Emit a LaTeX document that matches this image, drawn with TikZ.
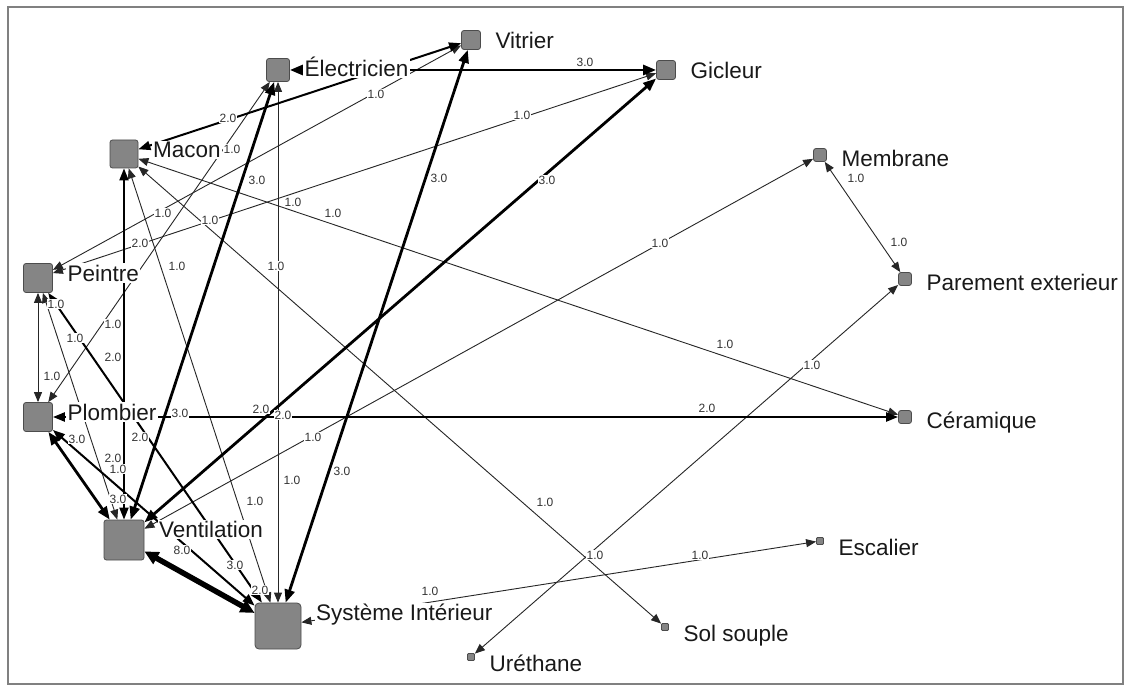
\documentclass[tikz,border=0pt]{standalone}
\usepackage{fontspec}
\setmainfont{Liberation Sans}
\usetikzlibrary{arrows.meta,calc}
\begin{document}
\begin{tikzpicture}[x=1pt,y=-1pt,
  nd/.style={rectangle,draw=black!70,fill=black!48,rounded corners=2.5pt,inner sep=0pt,line width=0.8pt},
  lab/.style={anchor=base west,fill=white,inner xsep=1.5pt,inner ysep=1.5pt,font=\fontsize{22.5}{24}\selectfont,text=black!90},
  elab/.style={fill=white,inner sep=0.8pt,font=\fontsize{12}{13}\selectfont,text=black!80},
  wa/.style={draw=black!85,line width=0.9pt,arrows={Triangle[length=10pt,width=8pt]-Triangle[length=10pt,width=8pt]}},
  wb/.style={draw=black,line width=2pt,arrows={Triangle[length=12pt,width=9pt]-Triangle[length=12pt,width=9pt]}},
  wc/.style={draw=black,line width=2.8pt,arrows={Triangle[length=13pt,width=10pt]-Triangle[length=13pt,width=10pt]}},
  wd/.style={draw=black,line width=5.5pt,arrows={Triangle[length=14pt,width=13pt]-Triangle[length=14pt,width=13pt]}}
]
\useasboundingbox (0,0) rectangle (1131,692);
\fill[white] (0,0) rectangle (1131,692);
\draw[black!50,line width=1.3pt] (8,7) rectangle (1123,684);

% nodes
\node[nd,minimum size=23pt] (ele) at (278,70) {};
\node[nd,minimum size=19pt] (vit) at (471,40) {};
\node[nd,minimum size=19pt] (gic) at (666,70) {};
\node[nd,minimum size=28pt] (mac) at (124,154) {};
\node[nd,minimum size=13pt] (mem) at (820,155) {};
\node[nd,minimum size=29pt] (pei) at (38,278) {};
\node[nd,minimum size=13pt] (par) at (905,279) {};
\node[nd,minimum size=29pt] (plo) at (38,417) {};
\node[nd,minimum size=13pt] (cer) at (905,417) {};
\node[nd,minimum size=40pt] (ven) at (124,540) {};
\node[nd,minimum size=7pt,rounded corners=1pt] (esc) at (820,541) {};
\node[nd,minimum size=46pt,rounded corners=4pt] (sys) at (278,626) {};
\node[nd,minimum size=7pt,rounded corners=1pt] (sol) at (665,627) {};
\node[nd,minimum size=7pt,rounded corners=1pt] (ure) at (471,657) {};

% thin ties
\draw[wa] (pei) -- (vit);
\draw[wa] (pei) -- (gic);
\draw[wa] (plo) -- (ele);
\draw[wa] (ele) -- (sys);
\draw[wa] (mac) -- (sys);
\draw[wa] (mac) -- (sol);
\draw[wa] (mac) -- (cer);
\draw[wa] (ven) -- (mem);
\draw[wa] (mem) -- (par);
\draw[wa] (par) -- (ure);
\draw[wa] (sys) -- (esc);
\draw[wa] (pei) -- (plo);
\draw[wa] (pei) -- (ven);
% medium ties
\draw[wb] (mac) -- (vit);
\draw[wb] (mac) -- (ven);
\draw[wb] (pei) -- (sys);
\draw[wb] (plo) -- (sys);
\draw[wb,line width=2.3pt] (plo) -- (cer);
% thick ties
\draw[wc] (ele) -- (gic);
\draw[wc] (ven) -- (ele);
\draw[wc] (ven) -- (gic);
\draw[wc] (sys) -- (vit);
\draw[wc] (plo) -- (ven);
\draw[wd] (ven) -- (sys);

% tie values
\node[elab] (l1) at (585,62) {3.0};
\node[elab] (l2) at (228,118) {2.0};
\node[elab] (l3) at (376,94) {1.0};
\node[elab] (l4) at (522,115) {1.0};
\node[elab] (l5) at (232,149) {1.0};
\node[elab] (l6) at (257,180) {3.0};
\node[elab] (l7) at (163,213) {1.0};
\node[elab] (l8) at (210,220) {1.0};
\node[elab] (l9) at (293,202) {1.0};
\node[elab] (l10) at (333,213) {1.0};
\node[elab] (l11) at (140,243) {2.0};
\node[elab] (l12) at (177,266) {1.0};
\node[elab] (l13) at (276,266) {1.0};
\node[elab] (l14) at (660,243) {1.0};
\node[elab] (l15) at (856,178) {1.0};
\node[elab] (l16) at (899,242) {1.0};
\node[elab] (l17) at (725,344) {1.0};
\node[elab] (l18) at (812,365) {1.0};
\node[elab] (l19) at (439,178) {3.0};
\node[elab] (l20) at (547,180) {3.0};
\node[elab] (l21) at (113,324) {1.0};
\node[elab] (l22) at (75,338) {1.0};
\node[elab] (l23) at (113,357) {2.0};
\node[elab] (l24) at (52,376) {1.0};
\node[elab] (l25) at (56,304) {1.0};
\node[elab] (l26) at (180,413) {3.0};
\node[elab] (l27) at (261,409) {2.0};
\node[elab] (l28) at (283,415) {2.0};
\node[elab] (l29) at (707,408) {2.0};
\node[elab] (l30) at (140,437) {2.0};
\node[elab] (l31) at (77,439) {3.0};
\node[elab] (l32) at (313,437) {1.0};
\node[elab] (l33) at (113,458) {2.0};
\node[elab] (l34) at (118,469) {1.0};
\node[elab] (l35) at (292,480) {1.0};
\node[elab] (l36) at (342,471) {3.0};
\node[elab] (l37) at (118,499) {3.0};
\node[elab] (l38) at (255,501) {1.0};
\node[elab] (l39) at (545,502) {1.0};
\node[elab] (l40) at (182,550) {8.0};
\node[elab] (l41) at (595,555) {1.0};
\node[elab] (l42) at (700,555) {1.0};
\node[elab] (l43) at (235,565) {3.0};
\node[elab] (l44) at (260,590) {2.0};
\node[elab] (l45) at (430,591) {1.0};

% actor names
\node[lab] (t-ele) at ($(ele.north east)+(13,18)$) {Électricien};
\node[lab] (t-vit) at ($(vit.north east)+(13,18)$) {Vitrier};
\node[lab] (t-gic) at ($(gic.north east)+(13,18)$) {Gicleur};
\node[lab] (t-mac) at ($(mac.north east)+(13,18)$) {Macon};
\node[lab] (t-mem) at ($(mem.north east)+(13,18)$) {Membrane};
\node[lab] (t-pei) at ($(pei.north east)+(13,18)$) {Peintre};
\node[lab] (t-par) at ($(par.north east)+(13,18)$) {Parement exterieur};
\node[lab] (t-plo) at ($(plo.north east)+(13,18)$) {Plombier};
\node[lab] (t-cer) at ($(cer.north east)+(13,18)$) {Céramique};
\node[lab] (t-ven) at ($(ven.north east)+(13,18)$) {Ventilation};
\node[lab] (t-esc) at ($(esc.north east)+(13,18)$) {Escalier};
\node[lab] (t-sys) at ($(sys.north east)+(13,18)$) {Système Intérieur};
\node[lab] (t-sol) at ($(sol.north east)+(13,18)$) {Sol souple};
\node[lab] (t-ure) at ($(ure.north east)+(13,18)$) {Uréthane};
\end{tikzpicture}
\end{document}
